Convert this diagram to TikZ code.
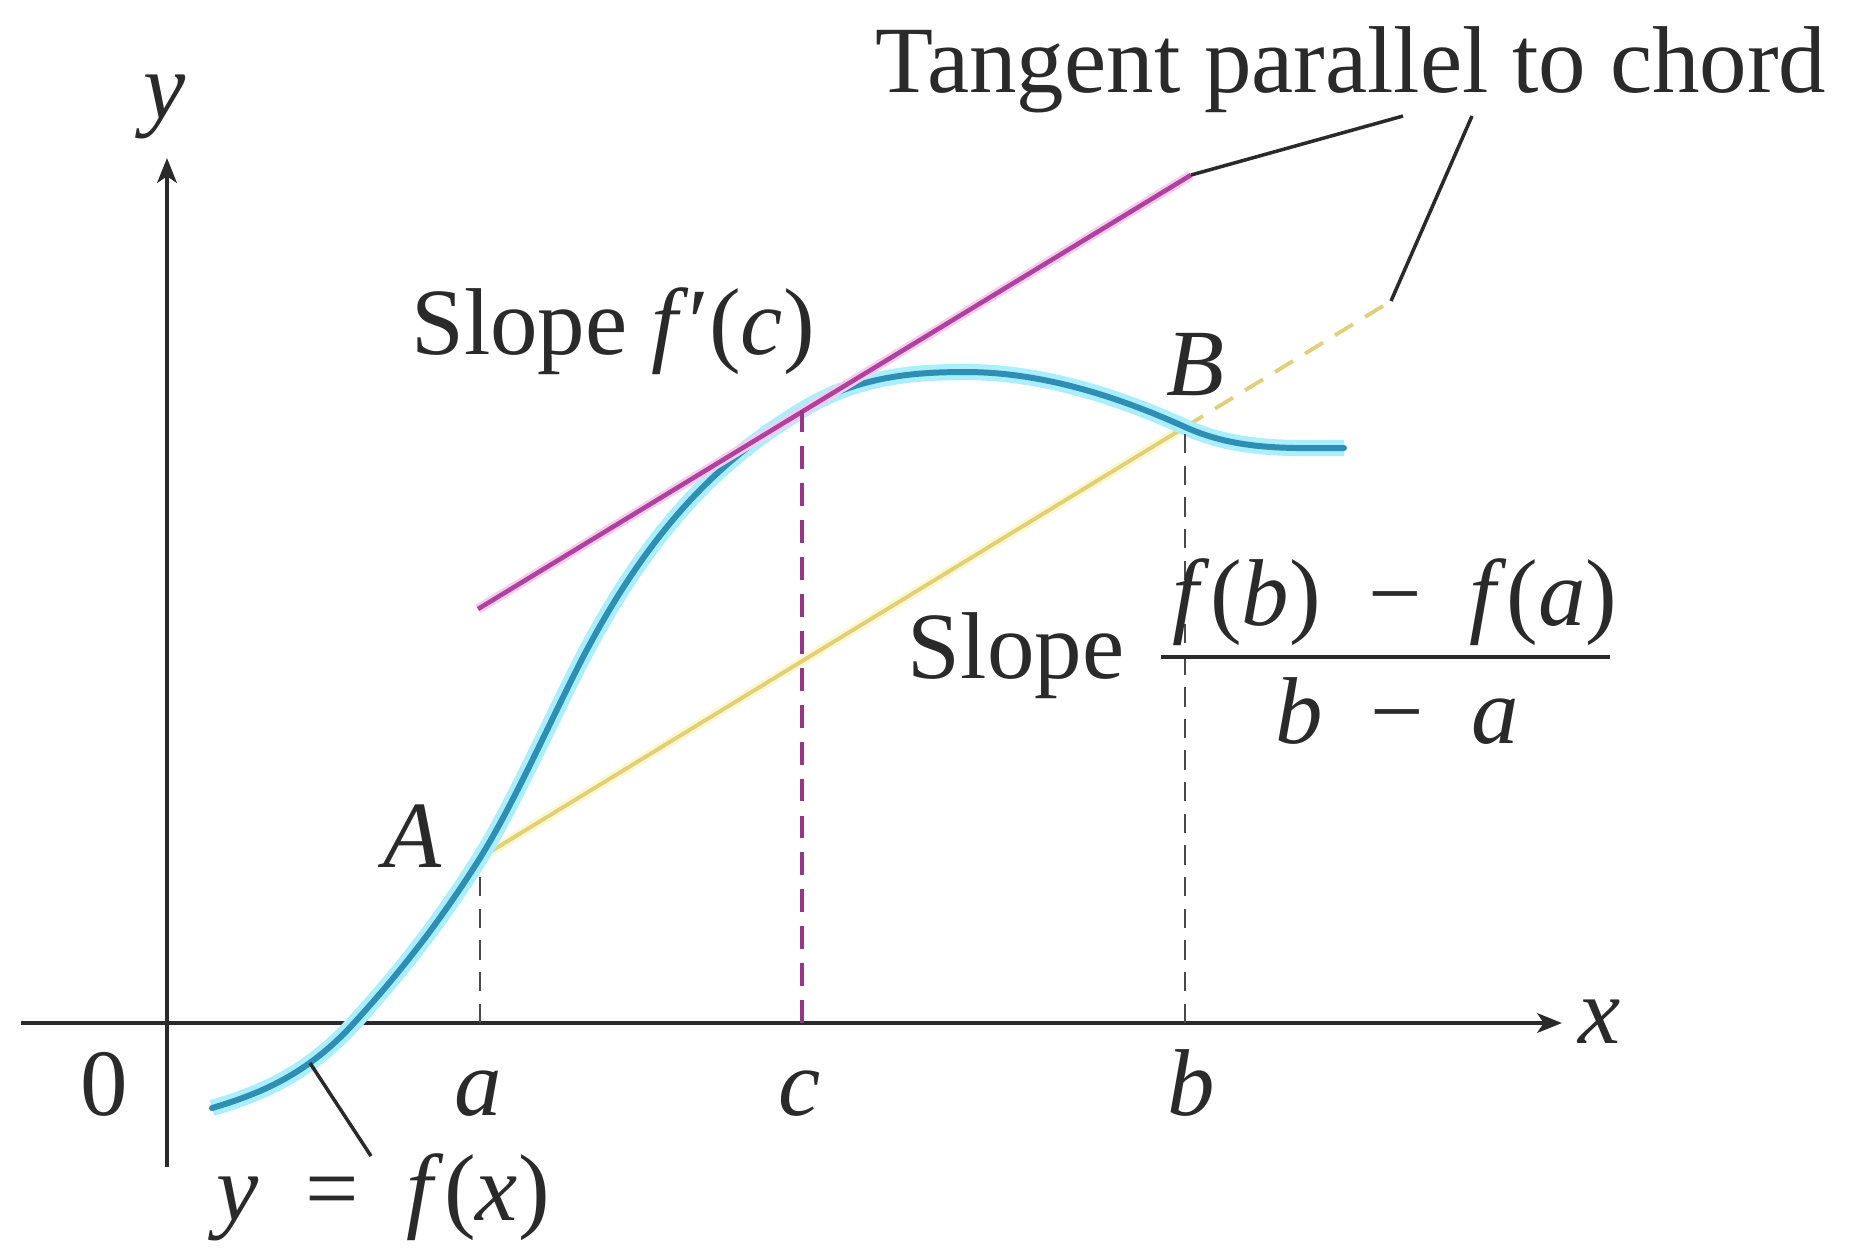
\documentclass[tikz,border=0pt]{standalone}
\usepackage{fontspec}
\setmainfont{Liberation Serif}
\usetikzlibrary{arrows.meta}
\definecolor{curvecol}{HTML}{2E8FB4}
\definecolor{curveglow}{HTML}{ABEEFF}
\definecolor{tancol}{HTML}{AE429C}
\definecolor{tanglow}{HTML}{F6CDEE}
\definecolor{chordcol}{HTML}{E0D07A}
\definecolor{chordglow}{HTML}{FFF7CC}
\definecolor{dashgray}{HTML}{4A4A4A}
\definecolor{txt}{HTML}{2A2A2A}
\begin{document}
\begin{tikzpicture}[x=0.01cm,y=-0.01cm,
  lbl/.style={font=\fontsize{27}{32}\selectfont, inner sep=0pt, text=txt},
  axisline/.style={line width=1.4pt, draw=txt, -{Stealth[length=7pt,width=5.5pt,inset=1.8pt]}},
  fcurve/.style={draw=curvecol, line width=1.7pt, line cap=round, preaction={draw=curveglow, line width=4.6pt}},
  tanline/.style={draw=tancol, line width=1.3pt, preaction={draw=tanglow, line width=2.8pt}},
  chordline/.style={draw=chordcol, line width=1.1pt, preaction={draw=chordglow, line width=2.6pt}},
  chorddash/.style={draw=chordcol, line width=1.1pt, dash pattern=on 6pt off 4pt},
  graydash/.style={draw=dashgray, line width=0.7pt, dash pattern=on 5.5pt off 3.5pt},
  tandash/.style={draw=tancol!85!black, line width=1.1pt, dash pattern=on 6.5pt off 4pt},
  leader/.style={draw=txt, line width=1pt}]
\useasboundingbox (0,0) rectangle (1849,1250);

% key points
\coordinate (xl) at (21,1023);
\coordinate (xr) at (1562,1023);
\coordinate (yb) at (167,1167);
\coordinate (yt) at (167,158);
\coordinate (S0) at (212,1108);
\coordinate (X0) at (354,1023);
\coordinate (A) at (480,858);
\coordinate (M) at (580,663);
\coordinate (T) at (802,410);
\coordinate (P) at (965,372);
\coordinate (B) at (1185,427);
\coordinate (E) at (1344,448);
\coordinate (T1) at (478,609);
\coordinate (T2) at (1191,175);
\coordinate (Cx) at (1391,301);
\coordinate (a0) at (480,1023);
\coordinate (c0) at (802,1023);
\coordinate (b0) at (1185,1023);
\coordinate (L1) at (1403,116);
\coordinate (L2) at (1472,116);
\coordinate (Yc) at (310,1063);
\coordinate (Yl) at (371,1156);
\coordinate (barL) at (1161,657);
\coordinate (barR) at (1610,657);

% axes
\draw[axisline] (xl) -- (xr);
\draw[axisline] (yb) -- (yt);

% dashed verticals
\draw[graydash] (a0) -- (A);

% chord
\draw[chordline] (A) -- (B);
\draw[chorddash] (B) -- (Cx);

% curve y = f(x)
\draw[fcurve] (S0) .. controls (259,1094) and (307,1075) .. (X0)
  .. controls (396,977) and (438,925) .. (A)
  .. controls (513,805) and (547,728) .. (M)
  .. controls (654,519) and (728,455) .. (T)
  .. controls (856,377) and (911,372) .. (P)
  .. controls (1038,372) and (1112,394) .. (B)
  .. controls (1238,451) and (1291,448) .. (E);

% tangent and verticals over the curve
\draw[graydash] (b0) -- (B);
\draw[tanline] (T1) -- (T2);
\draw[tandash] (c0) -- (T);

% leaders
\draw[leader] (T2) -- (L1);
\draw[leader] (Cx) -- (L2);
\draw[leader] (Yc) -- (Yl);

% fraction bar
\draw[line width=1.2pt, draw=txt] (barL) -- (barR);

% labels
\node[lbl, anchor=base] (ylab) at (165,118) {\textit{y}};
\node[lbl, anchor=base] (xlab) at (1600,1043) {\textit{x}};
\node[lbl, anchor=base] (zero) at (104,1115) {0};
\node[lbl, anchor=base] (alab) at (478,1115) {\textit{a}};
\node[lbl, anchor=base] (clab) at (800,1115) {\textit{c}};
\node[lbl, anchor=base] (blab) at (1191,1115) {\textit{b}};
\node[lbl, anchor=base] (Alab) at (413,867) {\textit{A}};
\node[lbl, anchor=base] (Blab) at (1195,395) {\textit{B}};
\node[lbl, anchor=base] (fxlab) at (383,1220) {\textit{y}\enspace=\enspace\textit{f}(\textit{x})};
\node[lbl, anchor=base] (slopec) at (613,354) {Slope \textit{f}′(\textit{c})};
\node[lbl, anchor=base] (tpc) at (1351,92) {Tangent parallel to chord};
\node[lbl, anchor=base] (slope2) at (1016,678) {Slope};
\node[lbl, anchor=base] (num) at (1395,625) {\textit{f}(\textit{b})\enspace−\enspace\textit{f}(\textit{a})};
\node[lbl, anchor=base] (den) at (1397,743) {\textit{b}\enspace−\enspace\textit{a}};
\end{tikzpicture}
\end{document}
